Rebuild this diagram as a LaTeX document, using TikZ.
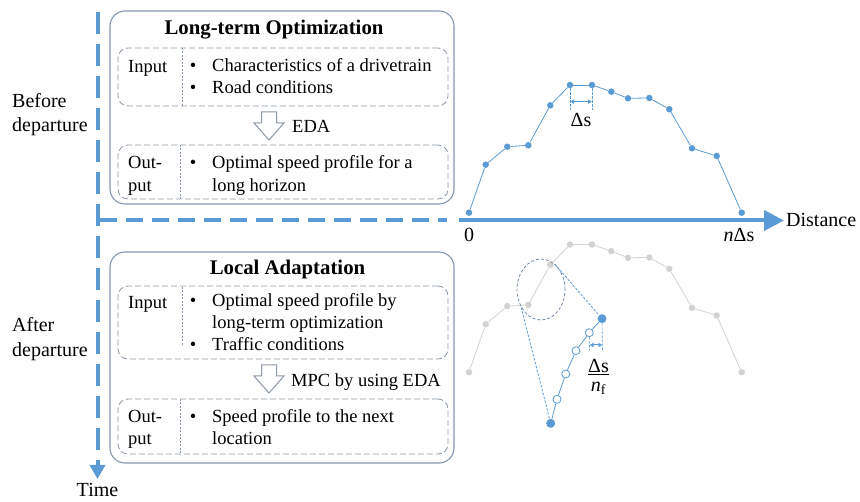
\documentclass[tikz,border=0pt]{standalone}
\usepackage{fontspec}
\setmainfont{Liberation Serif}
\usetikzlibrary{arrows.meta,shapes.geometric}
\definecolor{axblue}{RGB}{91,155,213}
\definecolor{boxgray}{RGB}{132,151,176}
\definecolor{linegray}{RGB}{140,152,168}
\definecolor{ptgray}{RGB}{210,210,210}
\definecolor{ellgray}{RGB}{115,138,168}

\begin{document}
\begin{tikzpicture}[x=1pt,y=-1pt,
    txt/.style = {inner sep=0, anchor=base west, font=\fontsize{18.5}{22}\selectfont},
    bul/.style = {inner sep=0, anchor=base, font=\fontsize{18.5}{22}\selectfont},
    lbl/.style = {inner sep=0, anchor=base west, font=\fontsize{20}{24}\selectfont},
    ttl/.style = {inner sep=0, anchor=base, font=\fontsize{20.8}{24}\selectfont\bfseries},
    outer/.style = {draw=boxgray, line width=1.1pt, rounded corners=15pt, inner sep=0},
    inner/.style = {draw=linegray, line width=0.8pt, dash pattern=on 6pt off 3pt, rounded corners=10pt, inner sep=0},
    divide/.style = {draw=linegray, line width=0.6pt, dash pattern=on 2pt off 1.5pt},
    hollow/.style = {draw=linegray, fill=white, line width=1pt},
    dot/.style = {circle, fill=axblue, inner sep=0, minimum size=6.5pt},
    gdot/.style = {circle, fill=ptgray, inner sep=0, minimum size=6.5pt},
    big/.style = {circle, fill=axblue, inner sep=0, minimum size=9pt},
    hol/.style = {circle, draw=axblue, fill=white, line width=0.8pt, inner sep=0, minimum size=8pt},
    dim/.style = {axblue, line width=0.6pt, dash pattern=on 2.5pt off 1.5pt},
    dimarr/.style = {axblue, line width=1pt, {Latex[length=4pt,width=5pt]}-{Latex[length=4pt,width=5pt]}}]
    \useasboundingbox (0,0) rectangle (860,502);

    % time axis and distance axis
    \coordinate (t0) at (97.5,12);
    \coordinate (t1) at (97.5,479);
    \draw[axblue, line width=4pt, dash pattern=on 22pt off 10pt, -{Triangle[length=14pt,width=15pt]}] (t0) -- (t1);
    \coordinate (d0) at (100,220.5);
    \coordinate (d1) at (447,220.5);
    \draw[axblue, line width=4pt, dash pattern=on 17pt off 9pt] (d0) -- (d1);
    \coordinate (a0) at (459,220.5);
    \coordinate (a1) at (784,220.5);
    \draw[axblue, line width=4pt, -{Triangle[length=20pt,width=20pt]}] (a0) -- (a1);
    \node[lbl] (dist) at (786,226.7) {Distance};
    \node[lbl, anchor=base] (time) at (97.5,496.7) {Time};
    \node[lbl] (bef1) at (12,107.3) {Before};
    \node[lbl] (bef2) at (12,131.7) {departure};
    \node[lbl] (aft1) at (12,331.7) {After};
    \node[lbl] (aft2) at (12,356.7) {departure};

    % long-term optimization
    \node[outer, minimum width=344pt, minimum height=193pt] (lt) at (282,107.5) {};
    \node[ttl] (lttitle) at (274,35) {Long-term Optimization};
    \node[inner, minimum width=330pt, minimum height=58pt] (ltin) at (283,77) {};
    \draw[divide] (182,48) -- (182,106);
    \node[txt] (ltin0) at (128,72.7) {Input};
    \node[bul] (ltb1) at (193,71.7) {\textbullet};
    \node[txt] (ltin1) at (212,71.7) {Characteristics of a drivetrain};
    \node[bul] (ltb2) at (193,93.3) {\textbullet};
    \node[txt] (ltin2) at (212,93.3) {Road conditions};
    \draw[hollow] (261.5,112) -- ++(15,0) -- ++(0,11) -- ++(7.5,0) -- ++(-15,17) -- ++(-15,-17) -- ++(7.5,0) -- cycle;
    \node[txt] (eda) at (292,132.7) {EDA};
    \node[inner, minimum width=330pt, minimum height=54pt] (ltout) at (283,172) {};
    \draw[divide] (180,145) -- (180,199);
    \node[txt] (ltout0) at (128,168.3) {Out-};
    \node[txt] (ltout00) at (128,191.7) {put};
    \node[bul] (ltb3) at (193,168.3) {\textbullet};
    \node[txt] (ltout1) at (212,168.3) {Optimal speed profile for a};
    \node[txt] (ltout2) at (212,191.7) {long horizon};

    % local adaptation
    \node[outer, minimum width=344pt, minimum height=211pt] (la) at (282,357.5) {};
    \node[ttl] (latitle) at (287.5,275) {Local Adaptation};
    \node[inner, minimum width=330pt, minimum height=73pt] (lain) at (283,322.5) {};
    \draw[divide] (182,287) -- (182,346);
    \node[txt] (lain0) at (128,308.5) {Input};
    \node[bul] (lab1) at (193,307) {\textbullet};
    \node[txt] (lain1) at (212,307) {Optimal speed profile by};
    \node[txt] (lain2) at (212,328.3) {long-term optimization};
    \node[bul] (lab2) at (193,350.7) {\textbullet};
    \node[txt] (lain3) at (212,350.7) {Traffic conditions};
    \draw[hollow] (261.5,365) -- ++(15,0) -- ++(0,11) -- ++(7.5,0) -- ++(-15,17) -- ++(-15,-17) -- ++(7.5,0) -- cycle;
    \node[txt] (mpc) at (291,386.7) {MPC by using EDA};
    \node[inner, minimum width=330pt, minimum height=55pt] (laout) at (283,426.5) {};
    \draw[divide] (180,399) -- (180,454);
    \node[txt] (laout0) at (128,422.7) {Out-};
    \node[txt] (laout00) at (128,444.5) {put};
    \node[bul] (lab3) at (193,422.7) {\textbullet};
    \node[txt] (laout1) at (212,422.7) {Speed profile to the next};
    \node[txt] (laout2) at (212,444.5) {location};

    % speed profiles
    \foreach \n/\x/\y in {0/469/212.7, 1/485.7/164.7, 2/507.3/146.7, 3/528.3/145.3, 4/550.3/105.3, 5/570/85, 6/592/85, 7/611.3/91.7, 8/628/98.3, 9/649.3/98, 10/669.3/109.3, 11/692/148.3, 12/716.7/156, 13/741.7/212.7}{
        \node[dot] (p\n) at (\x,\y) {};
        \node[gdot] (q\n) at (\x,\y+159.5) {};
    }
    \foreach \i [count=\j] in {0,...,12}{
        \draw[axblue, line width=0.8pt] (p\i) -- (p\j);
        \draw[ptgray, line width=0.8pt] (q\i) -- (q\j);
    }
    \node[lbl, anchor=base] (zero) at (469,241.7) {0};
    \node[lbl, anchor=base] (nds) at (739,241.7) {\textit{n}Δs};

    % spacing on the top profile
    \coordinate (s5) at (570,110);
    \coordinate (s6) at (592,110);
    \draw[dim] (p5) -- (s5);
    \draw[dim] (p6) -- (s6);
    \coordinate (s5a) at (570,101.7);
    \coordinate (s6a) at (592,101.7);
    \draw[dimarr] (s5a) -- (s6a);
    \node[lbl, anchor=base] (ds) at (581,126.7) {Δs};

    % zoomed part
    \node[ellipse, draw=ellgray, line width=0.8pt, dash pattern=on 3pt off 2pt, minimum width=48pt, minimum height=61pt, inner sep=0] (zm) at (541,289.5) {};
    \node[big] (b0) at (550.7,423.3) {};
    \node[hol] (h1) at (557,399.3) {};
    \node[hol] (h2) at (565.7,374) {};
    \node[hol] (h3) at (576,350.7) {};
    \node[hol] (h4) at (589.3,332.7) {};
    \node[big] (b5) at (602,318.7) {};
    \draw[axblue, line width=0.8pt] (b0) -- (h1) -- (h2) -- (h3) -- (h4) -- (b5);
    \draw[dim, line width=0.8pt] (zm.62) -- (b5);
    \draw[dim, line width=0.8pt] (zm.222) -- (b0);
    \coordinate (f4) at (589.5,350);
    \coordinate (f5) at (602.5,350);
    \draw[dim] (h4) -- (f4);
    \draw[dim] (b5) -- (f5);
    \coordinate (f4a) at (589.5,345);
    \coordinate (f5a) at (602.5,345);
    \draw[dimarr] (f4a) -- (f5a);
    \node[lbl, anchor=base] (frn) at (598.5,372.5) {\underline{Δs}};
    \node[lbl, anchor=base] (frd) at (598.5,391.5) {\textit{n}\textsubscript{f}};
    %\draw (zm.north) -- (b5);
\end{tikzpicture}
\end{document}
